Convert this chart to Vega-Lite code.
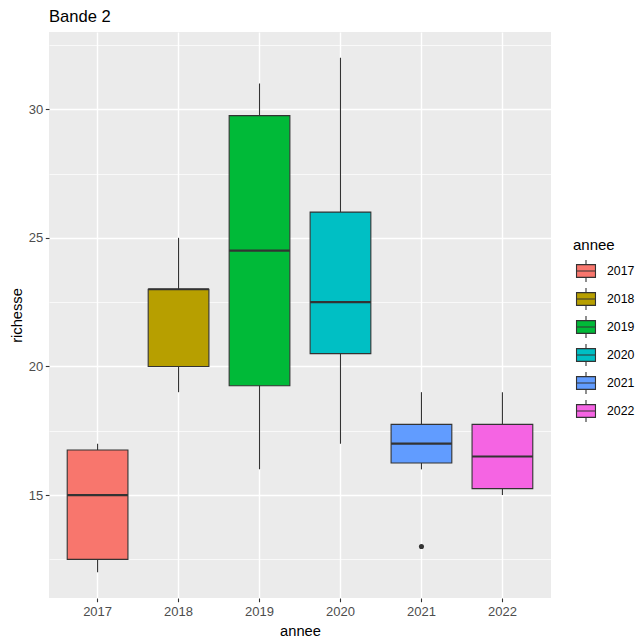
{
  "$schema": "https://vega.github.io/schema/vega-lite/v6.json",
  "width": 502,
  "height": 566,
  "autosize": {"type": "none"},
  "padding": {"left": 49, "top": 32, "right": 92, "bottom": 46},
  "background": "white",
  "title": {"text": "Bande 2", "anchor": "start", "frame": "group", "fontSize": 16.6, "fontWeight": "normal", "color": "black", "font": "Liberation Sans", "offset": 6},
  "data": {"values": [
    {"annee": "2017", "lower": 12, "q1": 12.5, "median": 15, "q3": 16.75, "upper": 17},
    {"annee": "2018", "lower": 19, "q1": 20, "median": 23, "q3": 23, "upper": 25},
    {"annee": "2019", "lower": 16, "q1": 19.25, "median": 24.5, "q3": 29.75, "upper": 31},
    {"annee": "2020", "lower": 17, "q1": 20.5, "median": 22.5, "q3": 26, "upper": 32},
    {"annee": "2021", "lower": 16, "q1": 16.25, "median": 17, "q3": 17.75, "upper": 19},
    {"annee": "2022", "lower": 15, "q1": 15.25, "median": 16.5, "q3": 17.75, "upper": 19}
  ]},
  "encoding": {
    "x": {
      "field": "annee", "type": "nominal", "title": "annee",
      "scale": {"paddingInner": 0.25, "paddingOuter": 0.225},
      "axis": {"grid": true, "gridWidth": 1.4, "bandPosition": 0.5, "labelAngle": 0, "labelPadding": 4, "titlePadding": 5}
    }
  },
  "layer": [
    {
      "mark": {"type": "rule", "color": "#333333", "strokeWidth": 1.1},
      "encoding": {
        "y": {
          "field": "lower", "type": "quantitative", "title": "richesse",
          "scale": {"domain": [11, 33], "nice": false, "zero": false},
          "axis": {
            "values": [12.5, 15, 17.5, 20, 22.5, 25, 27.5, 30, 32.5],
            "grid": true,
            "gridWidth": {"condition": {"test": "datum.value % 5 === 0", "value": 1.4}, "value": 0.7},
            "tickOpacity": {"condition": {"test": "datum.value % 5 === 0", "value": 1}, "value": 0},
            "labelExpr": "datum.value % 5 === 0 ? format(datum.value, 'd') : ''",
            "labelPadding": 2.5,
            "titlePadding": 4
          }
        },
        "y2": {"field": "upper"}
      }
    },
    {
      "mark": {"type": "bar", "stroke": "#333333", "strokeWidth": 1.1, "opacity": 1},
      "encoding": {
        "y": {"field": "q1", "type": "quantitative", "title": "richesse"},
        "y2": {"field": "q3"},
        "fill": {
          "field": "annee", "type": "nominal", "title": "annee",
          "scale": {"range": ["#F8766D", "#B79F00", "#00BA38", "#00BFC4", "#619CFF", "#F564E3"]},
          "legend": {
            "orient": "none", "legendX": 524, "legendY": 206,
            "padding": 0, "rowPadding": 0,
            "symbolType": "M-0.79,-0.53H0.79V0.53H-0.79Z M-0.79,0H0.79 M0,-0.53V-0.92 M0,0.53V0.92",
            "symbolSize": 576,
            "symbolStrokeColor": "#333333", "symbolStrokeWidth": 1.1, "symbolOpacity": 1,
            "labelOffset": 8, "labelFontSize": 12.3, "labelColor": "black", "labelFont": "Liberation Sans",
            "titleFontSize": 15, "titleFontWeight": "normal", "titleColor": "black", "titleFont": "Liberation Sans", "titlePadding": 5
          }
        }
      }
    },
    {
      "mark": {"type": "tick", "color": "#333333", "thickness": 2.2, "opacity": 1},
      "encoding": {
        "y": {"field": "median", "type": "quantitative", "title": "richesse"}
      }
    },
    {
      "data": {"values": [{"annee": "2021", "richesse": 13}]},
      "mark": {"type": "point", "filled": true, "color": "#333333", "size": 26, "opacity": 1},
      "encoding": {
        "y": {"field": "richesse", "type": "quantitative", "title": "richesse"}
      }
    }
  ],
  "config": {
    "font": "Liberation Sans",
    "view": {"stroke": null, "fill": "#EBEBEB"},
    "axis": {
      "domain": false, "gridColor": "white", "tickColor": "#333333", "tickSize": 3.7, "tickWidth": 1.1,
      "labelColor": "#4D4D4D", "labelFontSize": 13, "labelFont": "Liberation Sans",
      "titleFontSize": 14.7, "titleColor": "black", "titleFontWeight": "normal", "titleFont": "Liberation Sans"
    }
  }
}
